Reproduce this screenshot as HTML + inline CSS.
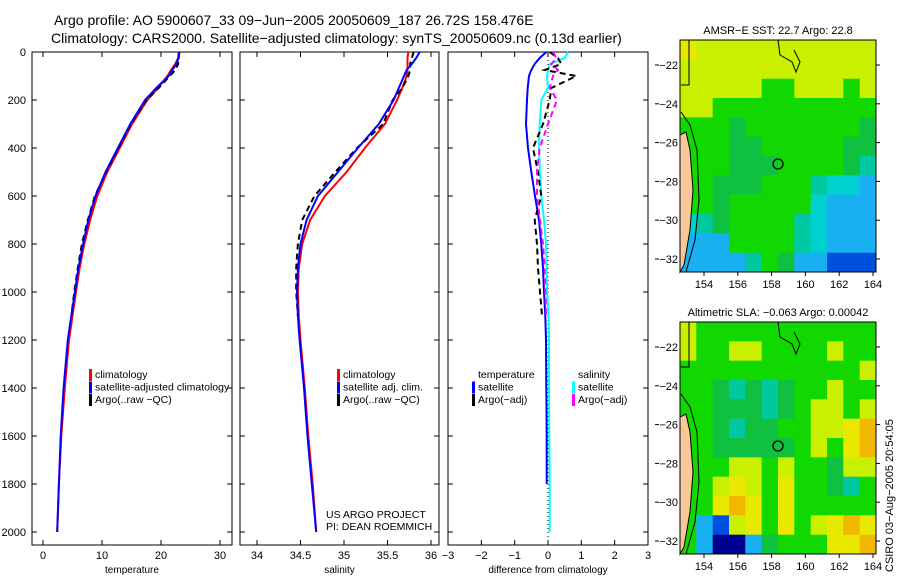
<!DOCTYPE html>
<html><head><meta charset="utf-8"><style>
body{margin:0;background:#fff;}
svg{display:block;font-family:"Liberation Sans",sans-serif;}
</style></head><body>
<svg id="fig" width="900" height="580" viewBox="0 0 900 580">
<rect width="900" height="580" fill="#fff"/>
<text x="54" y="25" font-size="14">Argo profile: AO 5900607_33 09−Jun−2005 20050609_187 26.72S 158.476E</text>
<text x="51" y="43" font-size="14">Climatology: CARS2000. Satellite−adjusted climatology: synTS_20050609.nc (0.13d earlier)</text>
<g id="panels"></g>
<g id="maps"></g>
<text transform="translate(893,572) rotate(-90)" font-size="11">CSIRO 03−Aug−2005 20:54:05</text>
</svg>
<script>
// ---- data ----
const depths = [0,25,50,75,100,150,200,300,400,500,600,700,800,900,1000,1100,1200,1400,1600,1800,2000];
const tempClim = [23,22.9,22.4,21.7,21.1,19.5,17.7,15.1,13.0,10.9,9.2,8.0,7.0,6.2,5.6,5.0,4.4,3.7,3.1,2.7,2.4];
const tempSat  = [23.1,23.0,22.6,21.9,21.3,19.2,17.3,14.8,12.7,10.6,8.9,7.7,6.8,6.0,5.4,4.8,4.2,3.5,3.0,2.7,2.4];
const tempArgo = [23.1,23.0,22.9,22.4,21.5,19.6,17.5,14.9,12.8,10.7,8.8,7.6,6.6,5.9,5.3,4.8];
const salClim = [35.74,35.73,35.73,35.73,35.72,35.67,35.61,35.47,35.24,35.03,34.78,34.61,34.52,34.48,34.47,34.48,34.5,34.55,34.59,34.64,34.68];
const salSat  = [35.87,35.83,35.78,35.72,35.69,35.63,35.57,35.40,35.16,34.93,34.70,34.57,34.50,34.47,34.46,34.47,34.49,34.54,34.58,34.63,34.68];
const salArgo = [35.8,35.78,35.76,35.76,35.74,35.67,35.56,35.45,35.15,34.9,34.66,34.52,34.47,34.45,34.45,34.47];
const dTempSat  = [-0.05,-0.25,-0.4,-0.5,-0.57,-0.61,-0.63,-0.66,-0.6,-0.5,-0.39,-0.27,-0.2,-0.15,-0.12,-0.08,-0.06,-0.05,-0.04,-0.04];
const dTempArgo = [0.05,0.3,0.4,-0.1,0.85,0.1,0.05,-0.15,-0.45,-0.3,-0.2,-0.4,-0.33,-0.3,-0.24,-0.18];
const dSalSat  = [0.6,0.5,0.06,0.0,-0.03,0.0,-0.2,-0.25,-0.27,-0.24,-0.2,-0.12,-0.06,-0.04,-0.03,0.02,0.03,0.03,0.04,0.05,0.05];
const dSalArgo = [0.15,0.25,0.1,0.3,0.15,0.05,0.27,0.0,-0.25,-0.33,-0.33,-0.24,-0.15,-0.1,-0.08,-0.05];
const depthTicks = [0,200,400,600,800,1000,1200,1400,1600,1800,2000];
const tempTicks = [0,10,20,30];
const salTicks = [34,34.5,35,35.5,36];
const diffTicks = [-3,-2,-1,0,1,2,3];

const NS='http://www.w3.org/2000/svg';
function mk(tag,attrs,parent){const e=document.createElementNS(NS,tag);for(const k in attrs)e.setAttribute(k,attrs[k]);parent.appendChild(e);return e;}
const panelsG=document.getElementById('panels');
const yOf=d=>52+d*0.24;

function panel(name,x0,x1,vmin,vmax,px0,px1,ticks,title,showY){
  const g=mk('g',{},panelsG);
  
  
  const xs=v=>px0+(v-vmin)*(px1-px0)/(vmax-vmin);
  const box=mk('rect',{x:x0,y:52,width:x1-x0,height:493,fill:'none',stroke:'#000','stroke-width':1},g);
  
  
  depthTicks.forEach(d=>{
    const y=yOf(d);
    mk('line',{x1:x0,x2:x0+5,y1:y,y2:y,stroke:'#000'},g);
    mk('line',{x1:x1-5,x2:x1,y1:y,y2:y,stroke:'#000'},g);
    if(showY){const t=mk('text',{x:x0-6,y:y+4,'font-size':11,'text-anchor':'end'},g);t.textContent=d;
      
      }
  });
  ticks.forEach(v=>{
    const x=xs(v);
    mk('line',{x1:x,x2:x,y1:52,y2:57,stroke:'#000'},g);
    mk('line',{x1:x,x2:x,y1:540,y2:545,stroke:'#000'},g);
    const t=mk('text',{x:x,y:559,'font-size':11,'text-anchor':'middle'},g);
    t.textContent=(v<0?'−'+(-v):v);
    
    
  });
  const at=mk('text',{x:(x0+x1)/2,y:573,'font-size':10,'text-anchor':'middle'},g);
  at.textContent=title;
  
  
  return {g,xs};
}
function line(p,vals,color,dash,name,w){
  const pts=vals.map((v,i)=>p.xs(v).toFixed(1)+','+yOf(depths[i]).toFixed(1)).join(' ');
  const l=mk('polyline',{points:pts,fill:'none',stroke:color,'stroke-width':w||2,'stroke-dasharray':dash||'none'},p.g);
  
  
}
function legend(g,x,y,items){
  items.forEach((it,i)=>{
    const yy=y+i*12.5;
    if(it[1])mk('rect',{x:x,y:yy-9,width:3,height:12,fill:it[1]},g);
    const t=mk('text',{x:x+6,y:yy,'font-size':10.5},g);t.textContent=it[0];
    
    
  });
}
// panel 1
const p1=panel('temperature-panel',32,232,0,30,43,220,tempTicks,'temperature',true);
line(p1,tempClim,'#f00',null,'temp-climatology-line');
line(p1,tempArgo,'#000','6,4','temp-argo-line');
line(p1,tempSat,'#00f',null,'temp-satellite-line');
legend(p1.g,89,378,[['climatology','#f00'],['satellite-adjusted climatology','#00f'],['Argo(..raw −QC)','#000']]);
// panel 2
const p2=panel('salinity-panel',240,439,34,36,257,431,salTicks,'salinity',false);
line(p2,salClim,'#f00',null,'sal-climatology-line');
line(p2,salArgo,'#000','6,4','sal-argo-line');
line(p2,salSat,'#00f',null,'sal-satellite-line');
legend(p2.g,337,378,[['climatology','#f00'],['satellite adj. clim.','#00f'],['Argo(..raw −QC)','#000']]);
let t1=mk('text',{x:326,y:518,'font-size':10.5},p2.g);t1.textContent='US ARGO PROJECT';


let t2=mk('text',{x:326,y:530,'font-size':10.5},p2.g);t2.textContent='PI: DEAN ROEMMICH';


// panel 3
const p3=panel('difference-panel',448,648,-3,3,448,648,diffTicks,'difference from climatology',false);
mk('line',{x1:548,x2:548,y1:52,y2:545,stroke:'#000','stroke-dasharray':'1,3'},p3.g);
line(p3,dTempSat,'#00f',null,'dtemp-satellite-line');
line(p3,dSalSat,'#0ff',null,'dsal-satellite-line');
line(p3,dTempArgo,'#000','6,4','dtemp-argo-line');
line(p3,dSalArgo,'#f0f','6,4','dsal-argo-line');
legend(p3.g,472,378,[['temperature',null],['satellite','#00f'],['Argo(−adj)','#000']]);
legend(p3.g,572,378,[['salinity',null],['satellite','#0ff'],['Argo(−adj)','#f0f']]);

// ---- maps ----
const pal={Y:'#c8f000',y:'#e8e800',O:'#f0b800',G:'#10d800',g:'#10c040',c:'#00c8a0',C:'#00d0d0',b:'#18b0f0',B:'#0050e0',N:'#000090'};
const grid1=['yYYYYYYYYYYY','YYYYYYYYYYYY','YYYYYGGYYYGY','YYGGGGGGGGGG','GGGgGGGGGGGg','GGGggGGGGGgg','GGGgggGGGGgc','GGgggGGGcCCb','GGgGGGGGCbbb','CcgGGGGcCbbb','bbbGGGGcCbbb','bbbbcGgbbBBB'];
const grid2=['YGGGGGGGGGGG','YGGYYGGGGYGG','GGGGGGGGGGGY','GGgcgcgGGYGG','GGgggcgGYYGY','GGgcggGGYYyO','GGgggggGYGyO','GGGYYGYGGgYY','GGYyYGyGGgcG','GGyOyGyGGGGG','GbBYyGyGYyOy','GbNNbgGGGyyO'];
const mapsG=document.getElementById('maps');
function map(name,y0,grid,title){
  const g=mk('g',{},mapsG);
  
  
  const x0=680,w=196,h=232,cw=w/12,ch=h/grid.length;
  grid.forEach((row,r)=>[...row].forEach((c,k)=>{
    mk('rect',{x:(x0+k*cw).toFixed(1),y:(y0+r*ch).toFixed(1),width:(cw+0.5).toFixed(1),height:(ch+0.5).toFixed(1),fill:pal[c]},g);
  }));
  const land=mk('path',{d:`M680 ${y0+95} L686 ${y0+92} L690 ${y0+110} L693 ${y0+150} L690 ${y0+190} L684 ${y0+225} L680 ${y0+232} Z`,fill:'#f8c898',stroke:'#000','stroke-width':1},g);
  
  
  mk('path',{d:`M681 ${y0+72} L690 ${y0+85} L697 ${y0+110} L699 ${y0+160} L695 ${y0+200} L686 ${y0+232}`,fill:'none',stroke:'#000'},g);
  mk('path',{d:`M778 ${y0} L780 ${y0+15} L792 ${y0+22} L796 ${y0+32} L800 ${y0+22} L794 ${y0+10}`,fill:'none',stroke:'#000'},g);
  mk('path',{d:`M681 ${y0+45} L689 ${y0+45} L689 ${y0}`,fill:'none',stroke:'#000'},g);
  const mk2=mk('circle',{cx:778,cy:y0+124,r:5,fill:'none',stroke:'#000','stroke-width':1.3},g);
  
  
  mk('rect',{x:x0,y:y0,width:w,height:h,fill:'none',stroke:'#000'},g);
  const tt=mk('text',{x:778,y:y0-6,'font-size':11,'text-anchor':'middle'},g);tt.textContent=title;
  
  
  [154,156,158,160,162,164].forEach(lon=>{
    const x=704+(lon-154)*16.9;
    mk('line',{x1:x,x2:x,y1:y0+h,y2:y0+h+4,stroke:'#000'},g);
    const t=mk('text',{x:x,y:y0+h+16,'font-size':11,'text-anchor':'middle'},g);t.textContent=lon;
    
    
  });
  [-22,-24,-26,-28,-30,-32].forEach(lat=>{
    const y=y0+25+(-22-lat)*19.4;
    mk('line',{x1:876,x2:880,y1:y,y2:y,stroke:'#000'},g);
    mk('line',{x1:655,x2:659,y1:y,y2:y,stroke:'#000'},g);
    const t=mk('text',{x:678,y:y+4,'font-size':11,'text-anchor':'end'},g);t.textContent='−'+(-lat);
    
    
  });
}
map('sst-map',40,grid1,'AMSR−E SST: 22.7 Argo: 22.8');
map('sla-map',322,grid2,'Altimetric SLA: −0.063 Argo: 0.00042');
</script>
</body></html>
